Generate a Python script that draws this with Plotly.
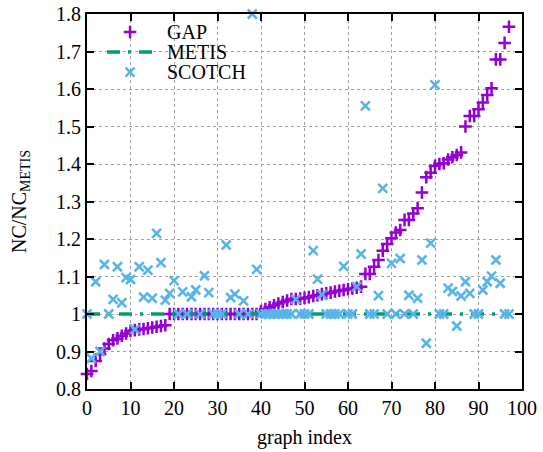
import plotly.graph_objects as go

idx = list(range(98))

gap = [0.84, 0.848, 0.875, 0.893, 0.908, 0.92, 0.93, 0.935, 0.942, 0.948,
       0.955, 0.957, 0.959, 0.96, 0.962, 0.964, 0.966, 0.968, 0.97,
       1.0, 1.0, 1.0, 1.0, 1.0, 1.0, 1.0, 1.0, 1.0, 1.0,
       1.0, 1.0, 1.0, 1.0, 1.0, 1.0, 1.0, 1.0, 1.0, 1.0, 1.0,
       1.008, 1.013, 1.018, 1.023, 1.028, 1.032, 1.036, 1.04, 1.04, 1.041,
       1.043, 1.045, 1.048, 1.05, 1.053, 1.055, 1.057, 1.06, 1.062, 1.064,
       1.066, 1.068, 1.07, 1.073, 1.107, 1.107, 1.126, 1.144, 1.169, 1.187,
       1.202, 1.217, 1.224, 1.251, 1.251, 1.268, 1.282, 1.324, 1.365, 1.377,
       1.395, 1.40, 1.402, 1.412, 1.418, 1.424, 1.431, 1.50, 1.528, 1.528,
       1.546, 1.564, 1.584, 1.602, 1.679, 1.679, 1.723, 1.766]

metis = [1.0] * 98

scotch = [1.0, 0.882, 1.086, 0.90, 1.132, 1.0, 1.039, 1.126, 1.03, 1.097,
          1.092, 0.959, 1.126, 1.045, 1.117, 1.042, 1.215, 1.137, 1.037, 1.055,
          1.089, 1.0, 1.059, 1.0, 1.046, 1.064, 1.0, 1.102, 1.057, 1.0,
          1.0, 1.0, 1.184, 1.044, 1.053, 1.0, 1.035, 1.0, 1.8, 1.119,
          1.0, 1.0, 1.0, 1.0, 1.0, 1.0, 1.0, 1.0, 1.039, 1.0,
          1.0, 1.0, 1.169, 1.093, 1.052, 1.0, 1.0, 1.0, 1.0, 1.127,
          1.0, 1.0, 1.073, 1.16, 1.555, 1.0, 1.0, 1.049, 1.335, 1.0,
          1.135, 1.0, 1.148, 1.0, 1.05, 1.0, 1.042, 1.144, 0.922, 1.189,
          1.611, 1.0, 1.0, 1.069, 1.06, 0.968, 1.048, 1.086, 1.055, 1.0,
          1.0, 1.064, 1.086, 1.101, 1.144, 1.082, 1.0, 1.0]

series_names = ["GAP", "METIS", "SCOTCH"]

xticks = [0, 10, 20, 30, 40, 50, 60, 70, 80, 90, 100]
yticks = [0.8, 0.9, 1.0, 1.1, 1.2, 1.3, 1.4, 1.5, 1.6, 1.7, 1.8]
yticklabels = ["0.8", "0.9", "1", "1.1", "1.2", "1.3", "1.4", "1.5", "1.6", "1.7", "1.8"]

FONT = "Liberation Serif, Times New Roman, serif"
FS = 20
C_GAP, C_METIS, C_SCOTCH = "#9400D3", "#009E73", "#56B4E9"

gap_marker = dict(symbol="cross-thin", size=9, color=C_GAP,
                  line=dict(color=C_GAP, width=2.5))
scotch_marker = dict(symbol="x-thin", size=9, color=C_SCOTCH,
                     line=dict(color=C_SCOTCH, width=2.5))
metis_line = dict(color=C_METIS, width=3.5, dash="13px,8px,3px,8px")

fig = go.Figure()
fig.add_trace(go.Scatter(x=idx, y=gap, mode="markers", name=series_names[0],
                         marker=gap_marker, cliponaxis=False, showlegend=False))
fig.add_trace(go.Scatter(x=idx, y=metis, mode="lines", name=series_names[1],
                         line=metis_line, showlegend=False))
fig.add_trace(go.Scatter(x=idx, y=scotch, mode="markers", name=series_names[2],
                         marker=scotch_marker, cliponaxis=False, showlegend=False))

# key (legend) samples, placed in the upper-left corner of the plot area
key_rows = [1.752, 1.699, 1.645]
key_sym_x = 9.9
key_line_x = [4.6, 16.1]
key_text_x = 0.180  # paper fraction
fig.add_trace(go.Scatter(x=[key_sym_x], y=[key_rows[0]], mode="markers",
                         marker=gap_marker, showlegend=False, hoverinfo="skip"))
fig.add_trace(go.Scatter(x=key_line_x, y=[key_rows[1]] * 2, mode="lines",
                         line=metis_line, showlegend=False, hoverinfo="skip"))
fig.add_trace(go.Scatter(x=[key_sym_x], y=[key_rows[2]], mode="markers",
                         marker=scotch_marker, showlegend=False, hoverinfo="skip"))
for name, yk in zip(series_names, key_rows):
    fig.add_annotation(x=key_text_x, y=yk, xref="paper", yref="y",
                       text=name, showarrow=False, xanchor="left", yanchor="middle",
                       font=dict(family=FONT, size=FS, color="black"))

axis_common = dict(
    showline=True, linecolor="black", linewidth=2, mirror="ticks",
    ticks="inside", ticklen=7, tickwidth=1.5, tickcolor="black",
    showgrid=True, gridcolor="#a0a0a0", griddash="dot", gridwidth=1,
    zeroline=False, automargin=False, ticklabeloverflow="allow",
    tickfont=dict(family=FONT, size=FS, color="black"),
)

fig.update_layout(
    width=543, height=452,
    margin=dict(l=87, r=21, t=14, b=63, autoexpand=False),
    plot_bgcolor="white", paper_bgcolor="white",
    font=dict(family=FONT, size=FS, color="black"),
    xaxis=dict(range=[0, 100], tickvals=xticks, ticktext=[str(v) for v in xticks],
               title=dict(text="graph index", font=dict(family=FONT, size=FS), standoff=12),
               **axis_common),
    yaxis=dict(range=[0.8, 1.8], tickvals=yticks, ticktext=yticklabels,
               title=dict(text="NC/NC<sub>METIS</sub>", font=dict(family=FONT, size=FS), standoff=24),
               **axis_common),
    showlegend=False,
)

fig.write_html("out.html", config={"displayModeBar": False},
               post_script="document.body.style.margin='0';document.body.style.padding='0';")
